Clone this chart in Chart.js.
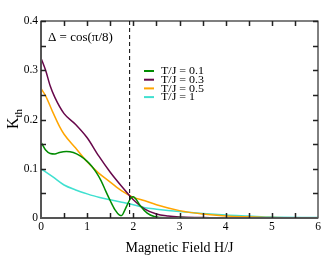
<!DOCTYPE html>
<html>
<head>
<meta charset="utf-8">
<script src="https://cdn.jsdelivr.net/npm/chart.js@4"></script>
<style>
    html, body { margin: 0; padding: 0; background: #fff; }
</style>
</head>
<body>
<canvas id="chart" width="332" height="257"></canvas>
<script>
// magnetic field H/J and thermal K for each temperature
const fieldT01 = [0, 0.1, 0.2, 0.3, 0.4, 0.55, 0.7, 0.85, 1.0, 1.1, 1.2, 1.3, 1.4, 1.5, 1.6, 1.7, 1.75, 1.8, 1.9, 1.95, 2.0, 2.05, 2.15, 2.3, 2.45, 2.6, 2.8, 3.0, 3.5, 4, 5, 6];
const kT01 = [0.154, 0.138, 0.131, 0.130, 0.133, 0.135, 0.133, 0.126, 0.115, 0.105, 0.092, 0.076, 0.055, 0.035, 0.017, 0.006, 0.005, 0.013, 0.033, 0.041, 0.043, 0.039, 0.025, 0.010, 0.003, 0.001, 0, 0.001, 0, 0, 0, 0];

const fieldT03 = [0, 0.1, 0.2, 0.3, 0.5, 0.75, 1.0, 1.25, 1.5, 1.75, 2.0, 2.25, 2.5, 2.75, 3, 3.5, 4, 5, 6];
const kT03 = [0.325, 0.300, 0.268, 0.245, 0.212, 0.190, 0.163, 0.126, 0.093, 0.064, 0.037, 0.018, 0.008, 0.004, 0.002, 0.001, 0, 0, 0];

const fieldT05 = [0, 0.1, 0.25, 0.4, 0.5, 0.75, 1, 1.25, 1.5, 1.75, 2, 2.25, 2.5, 3, 3.5, 4, 5, 6];
const kT05 = [0.263, 0.248, 0.216, 0.186, 0.170, 0.142, 0.114, 0.091, 0.073, 0.055, 0.042, 0.035, 0.027, 0.015, 0.008, 0.004, 0.001, 0];

const fieldT1 = [0, 0.25, 0.5, 0.75, 1, 1.25, 1.5, 1.75, 2, 2.25, 2.5, 3, 3.5, 4, 4.5, 5, 6];
const kT1 = [0.100, 0.084, 0.067, 0.057, 0.049, 0.042, 0.037, 0.032, 0.027, 0.021, 0.018, 0.013, 0.009, 0.006, 0.004, 0.002, 0.001];

const seriesLabels = ["T/J = 0.1", "T/J = 0.3", "T/J = 0.5", "T/J = 1"];
const seriesColors = ["#008b00", "#67074a", "#ffa500", "#40e0d0"];
const criticalField = 1.92;
const annotationText = "\u0394 = cos(\u03c0/8)";

const FONT = "'Liberation Serif', 'DejaVu Serif', serif";

function toPoints(xs, ys) {
    return xs.map((x, i) => ({ x: x, y: ys[i] }));
}

const datasets = [
    toPoints(fieldT01, kT01),
    toPoints(fieldT03, kT03),
    toPoints(fieldT05, kT05),
    toPoints(fieldT1, kT1)
].map((pts, i) => ({
    label: seriesLabels[i],
    data: pts,
    borderColor: seriesColors[i],
    backgroundColor: seriesColors[i],
    borderWidth: 1.5,
    pointRadius: 0,
    cubicInterpolationMode: 'monotone',
    fill: false
}));

const framePlugin = {
    id: 'frame',
    afterDatasetsDraw(chart) {
        const ctx = chart.ctx;
        const a = chart.chartArea;
        const xs = chart.scales.x;
        const ys = chart.scales.y;
        ctx.save();

        // dashed line at the critical field
        const xc = xs.getPixelForValue(criticalField);
        ctx.strokeStyle = '#000';
        ctx.lineWidth = 1;
        ctx.setLineDash([4, 3]);
        ctx.beginPath();
        ctx.moveTo(xc, a.top);
        ctx.lineTo(xc, a.bottom);
        ctx.stroke();
        ctx.setLineDash([]);

        // frame
        ctx.strokeStyle = '#000';
        ctx.lineWidth = 1;
        ctx.strokeRect(a.left, a.top, a.right - a.left, a.bottom - a.top);
        ctx.strokeStyle = '#555';
        ctx.lineWidth = 2;
        ctx.beginPath();
        ctx.moveTo(a.left, a.top);
        ctx.lineTo(a.left, a.bottom);
        ctx.lineTo(a.right, a.bottom);
        ctx.stroke();

        // inward ticks, major and minor
        ctx.strokeStyle = '#222';
        ctx.lineWidth = 1.5;
        const len = 5;
        ctx.beginPath();
        for (let v = 0.5; v < 6; v += 0.5) {
            const px = Math.round(xs.getPixelForValue(v)) + 0.5;
            ctx.moveTo(px, a.bottom); ctx.lineTo(px, a.bottom - len);
            ctx.moveTo(px, a.top); ctx.lineTo(px, a.top + len);
        }
        for (let v = 0.05; v < 0.4; v += 0.05) {
            const py = Math.round(ys.getPixelForValue(v)) + 0.5;
            ctx.moveTo(a.left, py); ctx.lineTo(a.left + len, py);
            ctx.moveTo(a.right, py); ctx.lineTo(a.right - len, py);
        }
        ctx.stroke();

        // annotation
        ctx.fillStyle = '#000';
        ctx.font = "13px " + FONT;
        ctx.textBaseline = 'alphabetic';
        ctx.textAlign = 'left';
        ctx.fillText(annotationText, a.left + 7, a.top + 20);

        // legend (text a bit wide, like the original)
        ctx.textBaseline = 'middle';
        chart.data.datasets.forEach((ds, i) => {
            const y = 71 + i * 8.7;
            ctx.strokeStyle = ds.borderColor;
            ctx.lineWidth = 2;
            ctx.beginPath();
            ctx.moveTo(144, y);
            ctx.lineTo(154, y);
            ctx.stroke();
            ctx.save();
            ctx.translate(161, y + 0.5);
            ctx.scale(1.2, 1);
            ctx.font = "10px " + FONT;
            ctx.fillStyle = '#000';
            ctx.fillText(ds.label, 0, 0);
            ctx.restore();
        });

        // y axis title K_th
        ctx.save();
        ctx.translate(18, 119);
        ctx.rotate(-Math.PI / 2);
        ctx.textBaseline = 'alphabetic';
        ctx.font = "16px " + FONT;
        const wK = ctx.measureText("K").width;
        ctx.font = "11px " + FONT;
        const wSub = ctx.measureText("th").width;
        const start = -(wK + wSub) / 2;
        ctx.font = "16px " + FONT;
        ctx.fillText("K", start, 0);
        ctx.font = "11px " + FONT;
        ctx.fillText("th", start + wK, 4);
        ctx.restore();

        ctx.restore();
    }
};

new Chart(document.getElementById('chart').getContext('2d'), {
    type: 'line',
    data: { datasets: datasets },
    options: {
        responsive: false,
        animation: false,
        layout: { padding: { top: 21, right: 14, left: 0, bottom: 0 } },
        plugins: {
            legend: { display: false },
            tooltip: { enabled: false }
        },
        scales: {
            x: {
                type: 'linear',
                min: 0,
                max: 6,
                grid: { display: false, drawTicks: false },
                border: { display: false },
                ticks: {
                    stepSize: 1,
                    padding: 2,
                    color: '#000',
                    maxRotation: 0,
                    font: { family: FONT, size: 11.5 }
                },
                title: {
                    display: true,
                    text: 'Magnetic Field H/J',
                    color: '#000',
                    padding: { top: 0, bottom: 0 },
                    font: { family: FONT, size: 14 }
                },
                afterFit(scale) { scale.height = 39; }
            },
            y: {
                min: 0,
                max: 0.4,
                grid: { display: false, drawTicks: false },
                border: { display: false },
                ticks: {
                    stepSize: 0.1,
                    padding: 3,
                    color: '#000',
                    font: { family: FONT, size: 11.5 }
                },
                afterFit(scale) { scale.width = 41; }
            }
        }
    },
    plugins: [framePlugin]
});
</script>
</body>
</html>
